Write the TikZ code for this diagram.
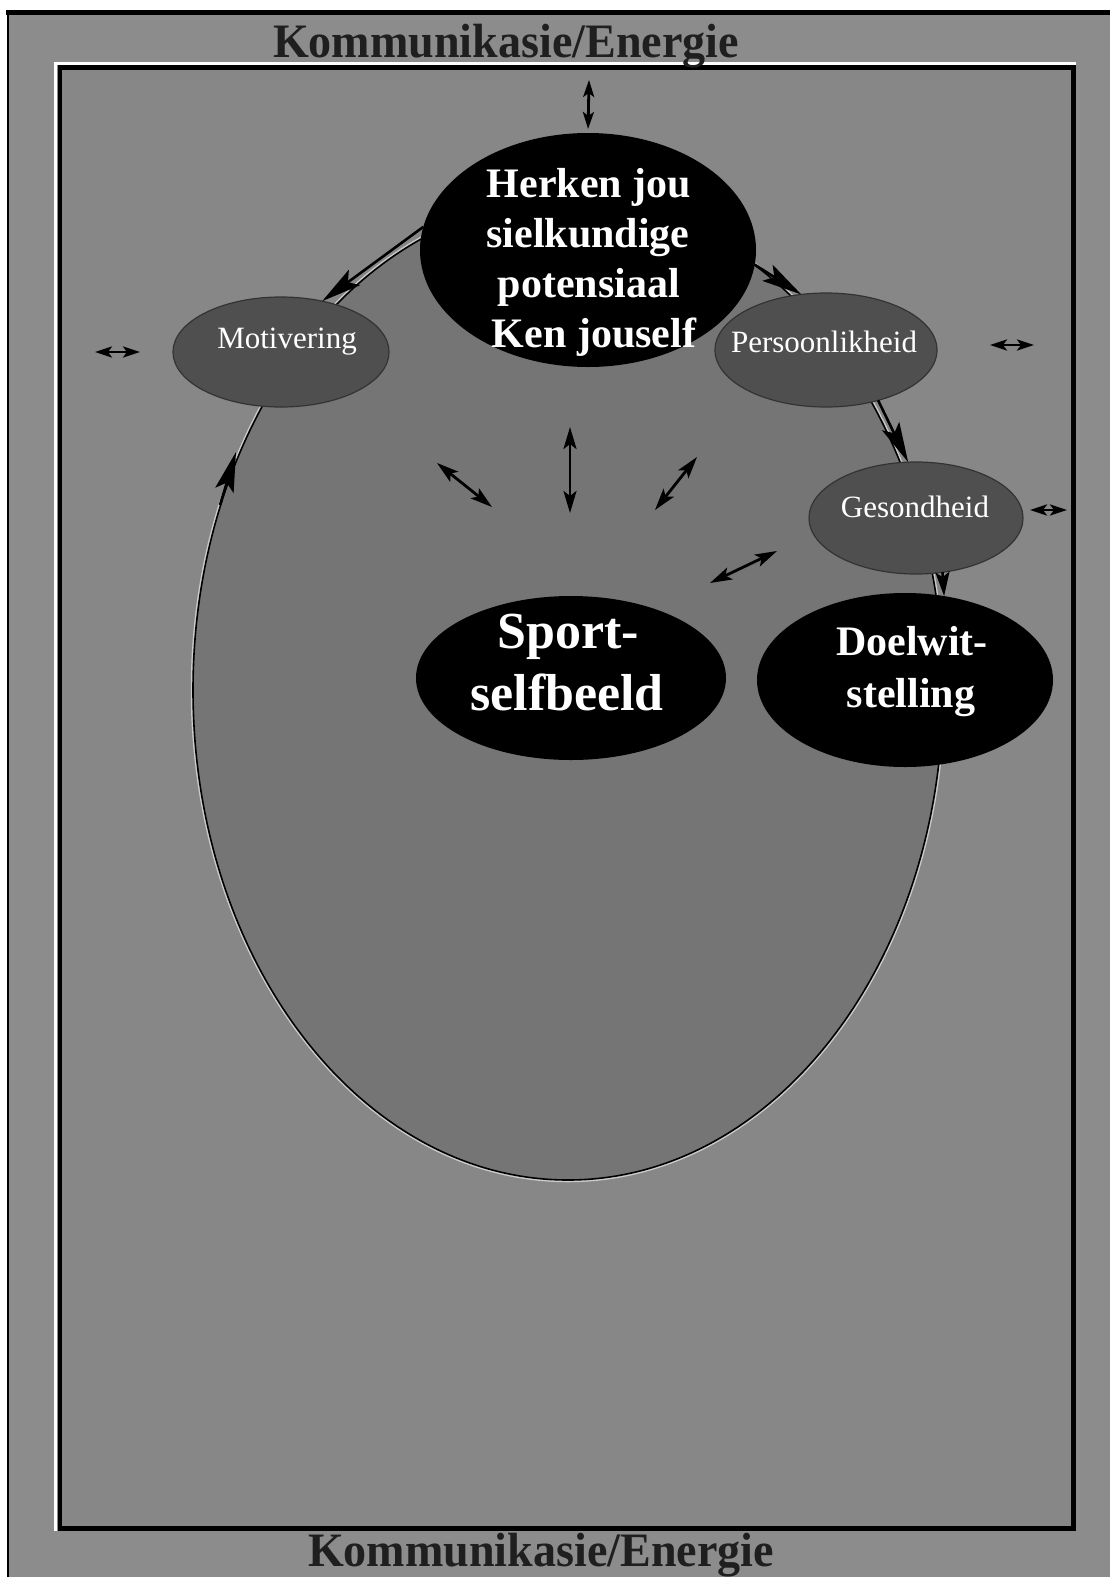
\documentclass[tikz,border=0pt]{standalone}
\usepackage{fontspec}
\setmainfont{Liberation Serif}
\usetikzlibrary{arrows.meta,shapes.geometric}

\definecolor{paper}{gray}{0.55}
\definecolor{panel}{gray}{0.53}
\definecolor{cyclefill}{gray}{0.46}
\definecolor{smallfill}{gray}{0.31}
\definecolor{titleink}{gray}{0.12}

\begin{document}
\begin{tikzpicture}[x=1pt,y=-1pt,
  blackell/.style={ellipse, fill=black, draw=none, inner sep=0pt, outer sep=0pt},
  grayell/.style={ellipse, fill=smallfill, draw=black!80, line width=1.2pt, inner sep=0pt, outer sep=0pt},
  cycleshape/.style={ellipse, fill=cyclefill, draw=black, line width=1.6pt,
    preaction={draw=white!55!paper, line width=4.5pt}, inner sep=0pt, outer sep=0pt},
  titletext/.style={anchor=base, inner sep=0pt, text=titleink,
    font=\fontsize{48}{48}\selectfont\bfseries},
  bigword/.style={anchor=base, inner sep=0pt, text=white,
    font=\fontsize{42}{42}\selectfont\bfseries},
  hugeword/.style={anchor=base, inner sep=0pt, text=white,
    font=\fontsize{52}{52}\selectfont\bfseries},
  smallword/.style={anchor=base, inner sep=0pt, text=white,
    font=\fontsize{31}{31}\selectfont},
  link/.style={line width=2.6pt, -{Stealth[length=40pt,width=19pt,inset=8pt]}},
  shortlink/.style={line width=2.6pt, -{Stealth[length=24pt,width=14pt,inset=5pt]}},
  twoway/.style={line width=2.8pt, {Stealth[length=22pt,width=13pt,inset=5pt]}-{Stealth[length=22pt,width=13pt,inset=5pt]}},
  smalltwoway/.style={line width=2.8pt, {Stealth[length=17pt,width=11pt,inset=4pt]}-{Stealth[length=17pt,width=11pt,inset=4pt]}},
]
\useasboundingbox (0,0) rectangle (1110,1577);

% paper, outer rules
\fill[white] (0,0) rectangle (1110,1577);
\fill[paper] (8,10) rectangle (1110,1577);
\draw[black, line width=5pt] (6,12.5) -- (1110,12.5);
\draw[black, line width=2pt] (8,10) -- (8,1577);

% inner panel with bevelled edges
\fill[panel] (58,66) rectangle (1073,1529);
\draw[black, line width=4.5pt] (60,67.5) rectangle (1073.5,1528.5);
\draw[white, line width=3pt] (54.5,63.5) -- (1076,63.5);
\draw[white, line width=3pt] (55.5,62) -- (55.5,1531);

% cycle ellipse
\node[cycleshape, minimum width=750pt, minimum height=980pt] (cycle) at (568,690) {};

% main ellipses
\node[blackell, minimum width=336pt, minimum height=234pt] (herk) at (588,250) {};
\node[grayell, minimum width=216pt, minimum height=110pt] (moti) at (281,352) {};
\node[grayell, minimum width=222pt, minimum height=114pt] (pers) at (826,350) {};
\node[grayell, minimum width=214pt, minimum height=112pt] (gesond) at (916,518) {};
\node[blackell, minimum width=310pt, minimum height=164pt] (sport) at (571,678) {};
\node[blackell, minimum width=296pt, minimum height=174pt] (doel) at (905,680) {};

% titles
\node[titletext] (toptitle) at (506,57) {\scalebox{0.96}[1]{Kommunikasie/Energie}};
\node[titletext] (bottitle) at (541,1566) {\scalebox{0.96}[1]{Kommunikasie/Energie}};

% labels
\node[bigword] (herk1) at (589,197) {Herken jou};
\node[bigword] (herk2) at (588,247) {sielkundige};
\node[bigword] (herk3) at (589,297) {potensiaal};
\node[bigword] (herk4) at (594,347) {Ken jouself};
\node[hugeword] (sport1) at (568,648) {Sport-};
\node[hugeword] (sport2) at (567,710) {selfbeeld};
\node[bigword] (doel1) at (912,655) {Doelwit-};
\node[bigword] (doel2) at (911,707) {stelling};
\node[smallword] (moti1) at (287,348) {Motivering};
\node[smallword] (pers1) at (824,352) {Persoonlikheid};
\node[smallword] (gesond1) at (915,517) {Gesondheid};

% free arrow ends
\coordinate (topend) at (589,80);
\coordinate (mL1) at (95,352);   \coordinate (mL2) at (140,352);
\coordinate (pR1) at (990,345);  \coordinate (pR2) at (1034,345);
\coordinate (gR1) at (1030,510); \coordinate (gR2) at (1067,510);
\coordinate (cA1) at (437,463);  \coordinate (cA2) at (492,507);
\coordinate (cB1) at (570,427);  \coordinate (cB2) at (570,513);
\coordinate (cC1) at (697,457);  \coordinate (cC2) at (655,510);
\coordinate (gS1) at (777,551);  \coordinate (gS2) at (710,583);
\coordinate (cyc1) at (220,505); \coordinate (cyc2) at (236,452);

% cycle arrows
\draw[link] (herk.172) -- (moti.51);
\draw[link] (herk.-5) -- (pers.114);
\draw[link] (pers.-44) -- (gesond.98);
\draw[shortlink] (gesond.-64) -- (doel.65);
\draw[link] (cyc1) -- (cyc2);

% two-way arrows
\draw[smalltwoway, shorten >=4pt] (topend) -- (herk.north);
\draw[smalltwoway] (mL1) -- (mL2);
\draw[smalltwoway] (pR1) -- (pR2);
\draw[smalltwoway] (gR1) -- (gR2);
\draw[twoway] (cA1) -- (cA2);
\draw[twoway] (cB1) -- (cB2);
\draw[twoway] (cC1) -- (cC2);
\draw[twoway] (gS1) -- (gS2);
\end{tikzpicture}
\end{document}
